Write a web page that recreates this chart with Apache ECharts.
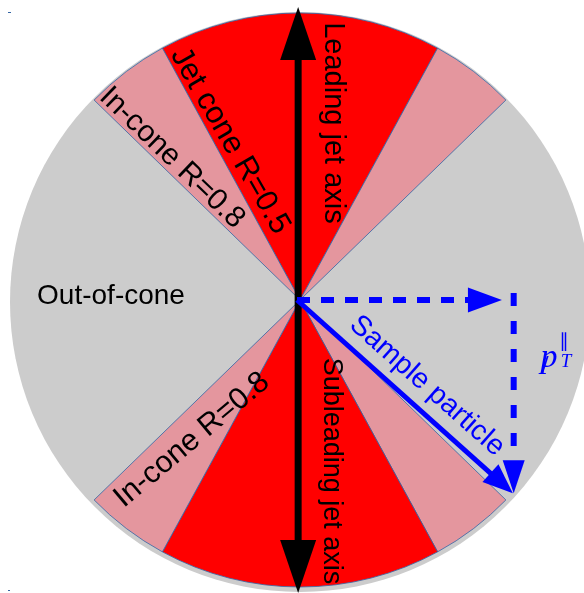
<!DOCTYPE html>
<html>
<head>
<meta charset="utf-8">
<script src="https://cdn.jsdelivr.net/npm/echarts@6/dist/echarts.min.js"></script>
<style>html,body{margin:0;padding:0;background:#fff;}#c{width:584px;height:593px;}</style>
</head>
<body>
<div id="c"></div>
<script>
// ---- data ----
const sectorNames = ['Jet cone', 'In-cone', 'Out-of-cone', 'In-cone', 'Jet cone', 'In-cone', 'Out-of-cone', 'In-cone'];
const sectorAngles = [57.3, 17.19, 88.32, 17.19, 57.3, 17.19, 88.32, 17.19]; // degrees (R=0.5 rad, R=0.8 rad)
const jetAxes = [[0.004, 0, 0.004, 1.01], [0.004, 0, 0.004, -1.01]];
const particleVector = [[0, 0, 0.752, -0.666]];
const projectionArrows = [[0, 0, 0.714, 0], [0.755, 0.024, 0.755, -0.666]];
const labelTexts = ['Leading jet axis', 'Subleading jet axis', 'Jet cone R=0.5', 'In-cone R=0.8', 'Out-of-cone', 'In-cone R=0.8', 'Sample particle'];

// ---- styles ----
const sectorColors = {'Jet cone': '#ff0000', 'In-cone': '#e4969e', 'Out-of-cone': 'rgba(0,0,0,0)'};
const arrowStyles = {
  black: {color: '#000000', width: 7, head: 53, hw: 18, dash: null},
  blue: {color: '#0000ff', width: 5, head: 30, hw: 12, dash: null},
  dashH: {color: '#0000ff', width: 6, head: 34, hw: 12.5, dash: [13, 11]},
  dashV: {color: '#0000ff', width: 6, head: 33, hw: 11, dash: [13, 15]}
};

function arrowSeries(name, data, styleKeys, z) {
  return {
    type: 'custom', name: name, coordinateSystem: 'cartesian2d', z: z, silent: true,
    data: data,
    renderItem: function (params, api) {
      const st = arrowStyles[styleKeys[params.dataIndex]];
      const a = api.coord([api.value(0), api.value(1)]);
      const b = api.coord([api.value(2), api.value(3)]);
      const dx = b[0] - a[0], dy = b[1] - a[1];
      const L = Math.hypot(dx, dy), ux = dx / L, uy = dy / L;
      const base = [b[0] - ux * st.head, b[1] - uy * st.head];
      const px = -uy, py = ux;
      return {
        type: 'group',
        children: [
          {type: 'line', shape: {x1: a[0], y1: a[1], x2: base[0] + ux * 1, y2: base[1] + uy * 1},
           style: {stroke: st.color, lineWidth: st.width, lineDash: st.dash, lineCap: 'butt'}},
          {type: 'polygon', shape: {points: [b, [base[0] + px * st.hw, base[1] + py * st.hw], [base[0] - px * st.hw, base[1] - py * st.hw]]},
           style: {fill: st.color}}
        ]
      };
    }
  };
}

function txt(text, x, y, rot, size, color, extra) {
  return Object.assign({
    type: 'text', x: x, y: y, rotation: rot, z: 100, silent: true,
    style: {text: text, font: size + 'px "Liberation Sans", Arial, sans-serif', fill: color || '#000',
            align: 'center', verticalAlign: 'middle', textAlign: 'center', textVerticalAlign: 'middle'}
  }, extra || {});
}

const deg = Math.PI / 180;
const chart = echarts.init(document.getElementById('c'), null, {renderer: 'canvas'});
chart.setOption({
  animation: false,
  backgroundColor: '#ffffff',
  grid: {left: 10, top: 10, width: 580, height: 580, show: false},
  xAxis: {type: 'value', min: -1, max: 1, show: false},
  yAxis: {type: 'value', min: -1, max: 1, show: false},
  series: [
    {
      type: 'pie', z: 1, silent: true, center: [300, 302], radius: [0, 290],
      label: {show: false}, labelLine: {show: false}, emphasis: {disabled: true},
      data: [{value: 360, name: 'disc', itemStyle: {color: '#cccccc'}}]
    },
    {
      type: 'pie', z: 2, silent: true, center: [300, 300], radius: [0, 287],
      startAngle: 90 + sectorAngles[0] / 2, clockwise: true, avoidLabelOverlap: false,
      label: {show: false}, labelLine: {show: false}, emphasis: {disabled: true},
      data: sectorAngles.map(function (v, i) {
        const n = sectorNames[i];
        const out = n === 'Out-of-cone';
        return {value: v, name: n, itemStyle: {color: sectorColors[n], borderColor: out ? 'rgba(0,0,0,0)' : '#3465a4', borderWidth: out ? 0 : 0.8}};
      })
    },
    arrowSeries('jet axes', jetAxes, ['black', 'black'], 3),
    arrowSeries('projection', projectionArrows, ['dashH', 'dashV'], 4),
    arrowSeries('particle', particleVector, ['blue'], 5)
  ],
  graphic: [
    txt(labelTexts[0], 333, 123, -90 * deg, 29),
    txt(labelTexts[1], 331, 471, -90 * deg, 27),
    txt(labelTexts[2], 230, 141, -60 * deg, 31),
    txt(labelTexts[3], 172, 158, -44 * deg, 30),
    txt(labelTexts[4], 111, 296, 0, 28),
    txt(labelTexts[5], 192, 440, 40 * deg, 30.5),
    txt(labelTexts[6], 427, 386, -41.5 * deg, 28.5, '#0000ff'),
    {type: 'text', x: 549, y: 358, z: 100, silent: true,
     style: {text: 'p', font: 'italic 34px "Liberation Serif", "DejaVu Serif", serif', fill: '#0000ff', align: 'center', verticalAlign: 'middle'}},
    {type: 'text', x: 545, y: 366, z: 101, silent: true,
     style: {text: '/', font: '22px "DejaVu Sans", sans-serif', fill: '#0000ff', align: 'center', verticalAlign: 'middle'}},
    {type: 'text', x: 564, y: 342, z: 100, silent: true,
     style: {text: '\u2225', font: '19px "DejaVu Sans", sans-serif', fill: '#0000ff', align: 'center', verticalAlign: 'middle'}},
    {type: 'text', x: 566, y: 362, z: 100, silent: true,
     style: {text: 'T', font: 'italic 19px "Liberation Serif", "DejaVu Serif", serif', fill: '#0000ff', align: 'center', verticalAlign: 'middle'}},
    {type: 'rect', shape: {x: 8, y: 12, width: 3, height: 1}, style: {fill: '#3465a4'}, silent: true},
    {type: 'rect', shape: {x: 8, y: 590, width: 2, height: 1}, style: {fill: '#3465a4'}, silent: true}
  ]
});
</script>
</body>
</html>
